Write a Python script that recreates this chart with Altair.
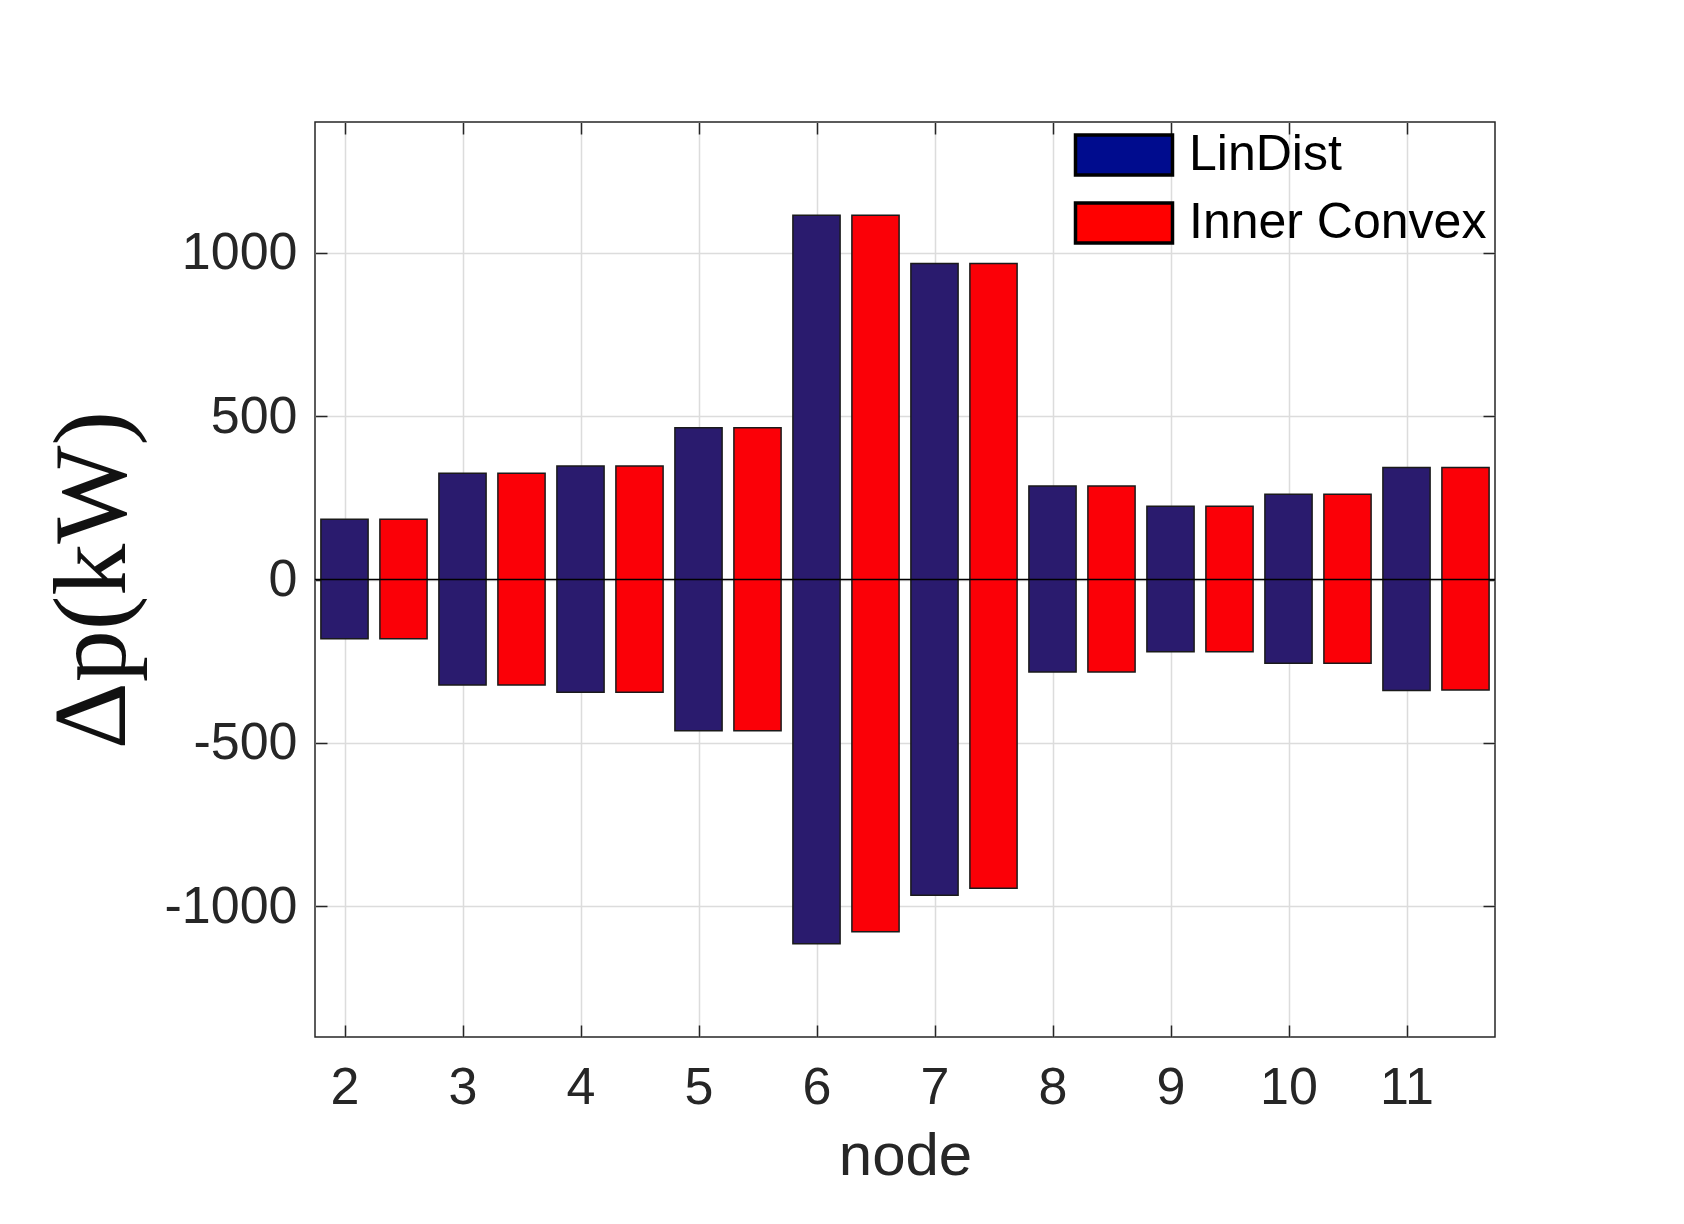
import altair as alt
import pandas as pd

nodes = [2, 3, 4, 5, 6, 7, 8, 9, 10, 11]
lindist_upper = [184, 325, 347, 464, 1115, 967, 286, 224, 261, 343]
lindist_lower = [-181, -323, -345, -463, -1115, -966, -283, -221, -256, -340]
inner_upper = [184, 325, 347, 464, 1115, 967, 286, 224, 261, 343]
inner_lower = [-181, -323, -345, -463, -1078, -945, -283, -221, -256, -338]
series_names = ["LinDist", "Inner Convex"]
y_ticks = [-1000, -500, 0, 500, 1000]

rows = []
for i, n in enumerate(nodes):
    rows.append({"node": n, "series": "LinDist", "upper": lindist_upper[i], "lower": lindist_lower[i]})
    rows.append({"node": n, "series": "Inner Convex", "upper": inner_upper[i], "lower": inner_lower[i]})
df = pd.DataFrame(rows)

W, H = 1180, 915
BAR_BLUE = "#2A1B6E"
BAR_RED = "#FB0007"
LEG_BLUE = "#000C8E"
LEG_RED = "#FF0000"
TXT = "#262626"

xscale = alt.Scale(domain=[1.75, 11.75], nice=False, zero=False)
yscale = alt.Scale(domain=[-1400, 1400], nice=False, zero=False)

base = alt.Chart(df).transform_calculate(
    pos="datum.node + (datum.series === 'LinDist' ? 0 : 0.5)"
).transform_calculate(
    x0="datum.pos - 0.2", x1="datum.pos + 0.2"
)

bottom_axis = alt.Axis(orient="bottom", values=nodes, title="node", grid=True, ticks=False,
                       domain=False, labelFontSize=52, labelPadding=25, labelColor=TXT,
                       titleFontSize=60, titleFontWeight="normal", titleColor=TXT, titlePadding=14,
                       gridColor="#dcdcdc", gridWidth=1.5)
left_axis = alt.Axis(orient="left", values=y_ticks, title="Δp(kW)", grid=True, ticks=False,
                     domain=False, labelFontSize=52, labelPadding=18, labelColor=TXT,
                     labelExpr="datum.value + ''",
                     titleFont="Liberation Serif", titleFontSize=104, titleFontWeight="normal",
                     titleColor="#111111", titlePadding=18,
                     gridColor="#dcdcdc", gridWidth=1.5)

tick_common = dict(labels=False, ticks=True, tickSize=12, tickColor=TXT, tickWidth=1.5,
                   grid=False, domain=False, title=None)

blue = base.transform_filter("datum.series === 'LinDist'").mark_bar(
    fill=BAR_BLUE, stroke="#1a1a1a", strokeWidth=1.5
).encode(
    x=alt.X("x0:Q", scale=xscale, axis=bottom_axis),
    x2="x1:Q",
    y=alt.Y("upper:Q", scale=yscale, axis=left_axis),
    y2="lower:Q",
)

red = base.transform_filter("datum.series === 'Inner Convex'").mark_bar(
    fill=BAR_RED, stroke="#1a1a1a", strokeWidth=1.5
).encode(
    x=alt.X("x0:Q", scale=xscale, axis=alt.Axis(orient="top", offset=-H, values=nodes, **tick_common)),
    x2="x1:Q",
    y=alt.Y("upper:Q", scale=yscale, axis=alt.Axis(orient="right", offset=-W, values=y_ticks, **tick_common)),
    y2="lower:Q",
)

legend_layer = base.mark_bar(opacity=0).encode(
    x=alt.X("x0:Q", scale=xscale, axis=alt.Axis(orient="bottom", offset=-H, values=nodes, **tick_common)),
    x2="x1:Q",
    y=alt.Y("upper:Q", scale=yscale, axis=alt.Axis(orient="left", offset=-W, values=y_ticks, **tick_common)),
    y2="lower:Q",
    color=alt.Color("series:N", scale=alt.Scale(domain=series_names, range=[LEG_BLUE, LEG_RED]),
                    legend=alt.Legend(title=None, orient="none", legendX=783, legendY=7,
                                      symbolType="M-2,-0.82H2V0.82H-2Z", symbolSize=2352,
                                      symbolOpacity=1, symbolStrokeColor="black", symbolStrokeWidth=3.5,
                                      labelFontSize=50, labelColor="black", labelOffset=39,
                                      rowPadding=14, padding=0, labelLimit=600)),
)

zero_line = alt.Chart(pd.DataFrame({"y": [0]})).mark_rule(color="black", strokeWidth=1.5).encode(
    y=alt.Y("y:Q", scale=yscale, axis=None)
)

chart = alt.layer(blue, red, legend_layer, zero_line).resolve_axis(
    x="independent", y="independent"
).properties(
    width=W, height=H,
    padding={"left": 33, "top": 113, "right": 5, "bottom": 5},
).configure(
    font="Liberation Sans",
).configure_view(
    stroke=TXT, strokeWidth=1.5
)

chart.save("out.html", embed_options={"renderer": "svg", "actions": False})
